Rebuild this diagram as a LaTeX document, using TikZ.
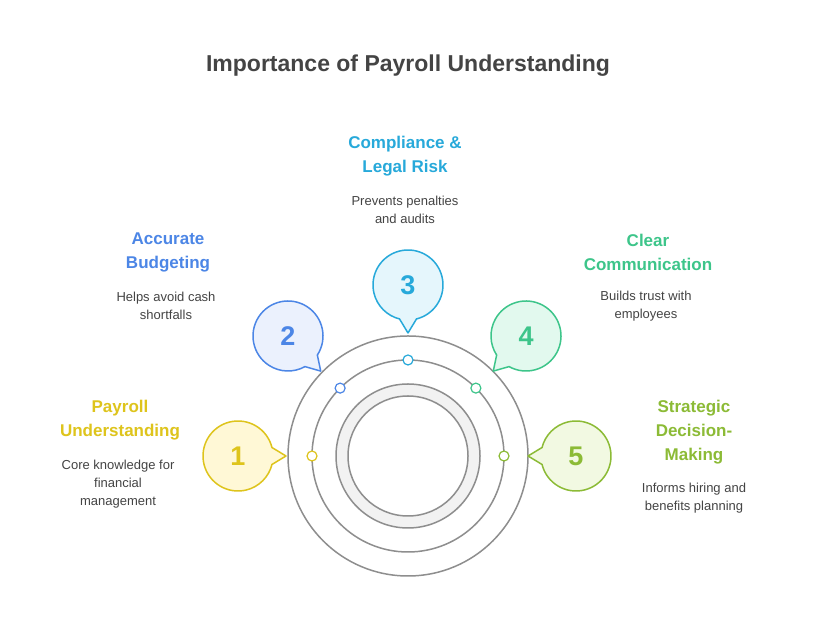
\documentclass[tikz,border=0pt]{standalone}
\usepackage{fontspec}
\setmainfont{Liberation Sans}
\usetikzlibrary{calc}
\definecolor{cY}{HTML}{DEC41C}\definecolor{fY}{HTML}{FFF8D6}
\definecolor{cB}{HTML}{4C86E6}\definecolor{fB}{HTML}{EBF1FD}
\definecolor{cC}{HTML}{27A9DA}\definecolor{fC}{HTML}{E5F6FC}
\definecolor{cG}{HTML}{3DC58A}\definecolor{fG}{HTML}{E2F9EE}
\definecolor{cL}{HTML}{8CBB36}\definecolor{fL}{HTML}{F2F9E2}
\definecolor{ring}{HTML}{8E8E8E}
\definecolor{txt}{HTML}{444444}
\newcommand{\bubble}[6]{% name, x, y, angle, colour, fill
  \draw[#5,fill=#6,line width=1.5pt,line join=round]
    ($(#2,#3)+(#4+14:35)$) arc[start angle=#4+14, end angle=#4+346, radius=35]
    -- ($(#2,#3)+(#4:48)$) -- cycle;
  \node[num,text=#5] (#1) at (#2,#3) {\the\numexpr#1\relax};
}
\begin{document}
\begin{tikzpicture}[x=1pt,y=1pt,
  num/.style={font=\fontsize{27}{27}\selectfont\bfseries},
  head/.style={align=center,font=\fontsize{17}{24}\selectfont\bfseries},
  desc/.style={align=center,text=txt,font=\fontsize{13}{18}\selectfont},
  dot/.style={circle,draw,fill=white,line width=1.2pt,inner sep=0pt,minimum size=10pt}
  ]
  \useasboundingbox[fill=white] (0,0) rectangle (816,636);
  \node[font=\fontsize{23}{23}\selectfont\bfseries,text=txt] (title) at (408,570) {Importance of Payroll Understanding};

  % rings
  \coordinate (c) at (408,180);
  \draw[ring,line width=1.5pt] (c) circle[radius=120];
  \draw[ring,line width=1.5pt] (c) circle[radius=96];
  \draw[ring,line width=1.5pt,fill=black!5,even odd rule] (c) circle[radius=72] circle[radius=60];

  % bubbles
  \bubble{1}{238}{180}{0}{cY}{fY}
  \bubble{2}{288}{300}{-47}{cB}{fB}
  \bubble{3}{408}{351}{-90}{cC}{fC}
  \bubble{4}{526}{300}{-133}{cG}{fG}
  \bubble{5}{576}{180}{180}{cL}{fL}

  % dots on ring
  \node[dot,draw=cY] (d1) at ($(c)+(180:96)$) {};
  \node[dot,draw=cB] (d2) at ($(c)+(135:96)$) {};
  \node[dot,draw=cC] (d3) at ($(c)+(90:96)$) {};
  \node[dot,draw=cG] (d4) at ($(c)+(45:96)$) {};
  \node[dot,draw=cL] (d5) at ($(c)+(0:96)$) {};

  % labels
  \node[head,text=cY] (h1) at (120,216) {Payroll\\Understanding};
  \node[desc] (t1) at (118,152) {Core knowledge for\\financial\\management};
  \node[head,text=cB] (h2) at (168,384) {Accurate\\Budgeting};
  \node[desc] (t2) at (166,330) {Helps avoid cash\\shortfalls};
  \node[head,text=cC] (h3) at (405,480) {Compliance \&\\Legal Risk};
  \node[desc] (t3) at (405,426) {Prevents penalties\\and audits};
  \node[head,text=cG] (h4) at (648,384) {Clear\\Communication};
  \node[desc] (t4) at (646,330) {Builds trust with\\employees};
  \node[head,text=cL] (h5) at (694,204) {Strategic\\Decision-\\Making};
  \node[desc] (t5) at (694,138) {Informs hiring and\\benefits planning};
\end{tikzpicture}
\end{document}
